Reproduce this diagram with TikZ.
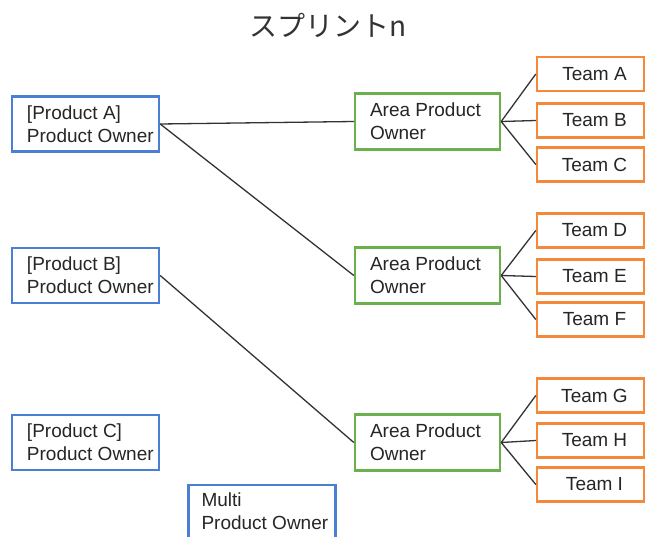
\documentclass[tikz,border=0pt]{standalone}
\usepackage{fontspec}
\setmainfont{Liberation Sans}
\newfontfamily\cjkfont{Noto Sans CJK JP}
\definecolor{poblue}{HTML}{4A7FD4}
\definecolor{apogreen}{HTML}{6AB04C}
\definecolor{teamorange}{HTML}{F5893A}
\definecolor{wire}{HTML}{333333}
\tikzset{
  box/.style={draw, line width=2.4pt, fill=white, inner sep=0pt},
  pobox/.style={box, draw=poblue, minimum width=147pt, minimum height=55pt},
  apobox/.style={box, draw=apogreen, minimum width=145pt, minimum height=56pt},
  teambox/.style={box, draw=teamorange, minimum width=107pt, minimum height=34pt},
  boxtext/.style={anchor=west, align=left, inner sep=0pt, font=\fontsize{19}{23}\selectfont, text=black!85},
  teamtext/.style={font=\fontsize{19}{23}\selectfont, text=black!85, inner sep=0pt},
  wireline/.style={draw=wire, line width=1.3pt},
}
\begin{document}
\begin{tikzpicture}[x=1pt, y=-1pt]
\useasboundingbox (0,0) rectangle (645,536);
\clip (0,0) rectangle (645,536);

% title
\node[font=\cjkfont\fontsize{28}{30}\selectfont, text=black!80] (title) at (328,25) {スプリントn};

% product owners
\node[pobox] (pa) at (85.5,124) {};
\node[pobox] (pb) at (85.5,275.5) {};
\node[pobox] (pc) at (85.5,442.5) {};
\node[pobox, minimum height=62pt] (multi) at (262,516) {};
\node[boxtext] (pat) at ([xshift=16pt]pa.west) {[Product A]\\Product Owner};
\node[boxtext] (pbt) at ([xshift=16pt]pb.west) {[Product B]\\Product Owner};
\node[boxtext] (pct) at ([xshift=16pt]pc.west) {[Product C]\\Product Owner};
\node[boxtext, anchor=north west] (multit) at ([xshift=14pt,yshift=-9pt]multi.north west) {Multi\\Product Owner};

% area product owners
\node[apobox] (apo1) at (427.5,121.5) {};
\node[apobox] (apo2) at (427.5,275.5) {};
\node[apobox] (apo3) at (427.5,442.5) {};
\foreach \a in {apo1,apo2,apo3}
  \node[boxtext] (\a t) at ([xshift=16pt]\a.west) {Area Product\\Owner};

% teams
\foreach \n/\y/\l in {ta/74/A, tb/120.5/B, tc/164.5/C, td/230.5/D, te/276.5/E, tf/319.5/F, tg/395.5/G, th/440.5/H, ti/484.5/I}{
  \node[teambox] (\n) at (590.5,\y) {};
  \node[teamtext] (\n t) at ([xshift=4pt]\n.center) {Team \l};
}

% connectors
\draw[wireline] (pa.east) -- (apo1.west);
\draw[wireline] (pa.east) -- (apo2.west);
\draw[wireline] (pb.east) -- (apo3.west);
\foreach \a/\x/\y/\z in {apo1/ta/tb/tc, apo2/td/te/tf, apo3/tg/th/ti}{
  \draw[wireline] (\a.east) -- (\x.west);
  \draw[wireline] (\a.east) -- (\y.west);
  \draw[wireline] (\a.east) -- (\z.west);
}
\end{tikzpicture}
\end{document}
